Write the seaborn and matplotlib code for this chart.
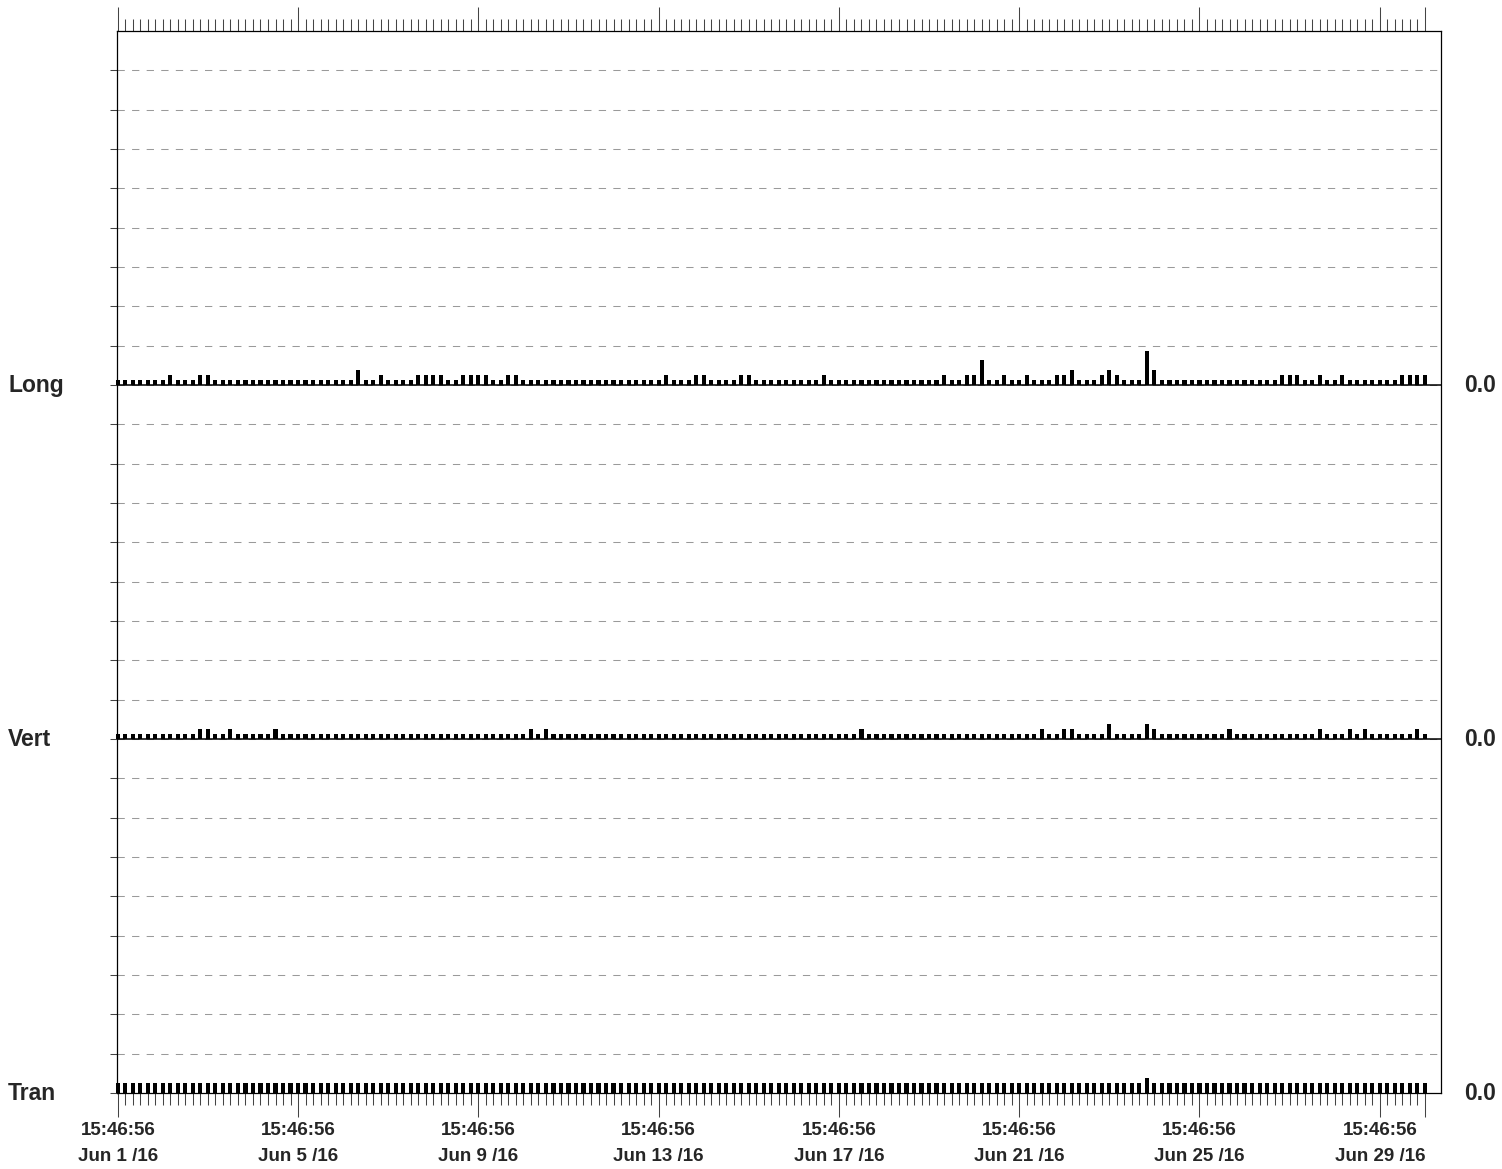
import numpy as np
import pandas as pd
import matplotlib
matplotlib.use("Agg")
import matplotlib.pyplot as plt
from matplotlib.ticker import FixedLocator
import seaborn as sns

# one reading every 4 hours, starting at the first event
start = "2016-06-01 15:46:56"
n_events = 175

# peak readings per interval, in 0.001 in/s (25 per row)
long_vals = [
    5, 5, 5, 5, 5, 5, 5, 10, 5, 5, 5, 10, 10, 5, 5, 5, 5, 5, 5, 5, 5, 5, 5, 5, 5,
    5, 5, 5, 5, 5, 5, 5, 15, 5, 5, 10, 5, 5, 5, 5, 10, 10, 10, 10, 5, 5, 10, 10, 10, 10,
    5, 5, 10, 10, 5, 5, 5, 5, 5, 5, 5, 5, 5, 5, 5, 5, 5, 5, 5, 5, 5, 5, 5, 10, 5,
    5, 5, 10, 10, 5, 5, 5, 5, 10, 10, 5, 5, 5, 5, 5, 5, 5, 5, 5, 10, 5, 5, 5, 5, 5,
    5, 5, 5, 5, 5, 5, 5, 5, 5, 5, 10, 5, 5, 10, 10, 25, 5, 5, 10, 5, 5, 10, 5, 5, 5,
    10, 10, 15, 5, 5, 5, 10, 15, 10, 5, 5, 5, 35, 15, 5, 5, 5, 5, 5, 5, 5, 5, 5, 5, 5,
    5, 5, 5, 5, 5, 10, 10, 10, 5, 5, 10, 5, 5, 10, 5, 5, 5, 5, 5, 5, 5, 10, 10, 10, 10,
]
vert_vals = [
    5, 5, 5, 5, 5, 5, 5, 5, 5, 5, 5, 10, 10, 5, 5, 10, 5, 5, 5, 5, 5, 10, 5, 5, 5,
    5, 5, 5, 5, 5, 5, 5, 5, 5, 5, 5, 5, 5, 5, 5, 5, 5, 5, 5, 5, 5, 5, 5, 5, 5,
    5, 5, 5, 5, 5, 10, 5, 10, 5, 5, 5, 5, 5, 5, 5, 5, 5, 5, 5, 5, 5, 5, 5, 5, 5,
    5, 5, 5, 5, 5, 5, 5, 5, 5, 5, 5, 5, 5, 5, 5, 5, 5, 5, 5, 5, 5, 5, 5, 5, 10,
    5, 5, 5, 5, 5, 5, 5, 5, 5, 5, 5, 5, 5, 5, 5, 5, 5, 5, 5, 5, 5, 5, 5, 10, 5,
    5, 10, 10, 5, 5, 5, 5, 15, 5, 5, 5, 5, 15, 10, 5, 5, 5, 5, 5, 5, 5, 5, 5, 10, 5,
    5, 5, 5, 5, 5, 5, 5, 5, 5, 5, 10, 5, 5, 5, 10, 5, 10, 5, 5, 5, 5, 5, 5, 10, 5,
]
tran_vals = [
    10, 10, 10, 10, 10, 10, 10, 10, 10, 10, 10, 10, 10, 10, 10, 10, 10, 10, 10, 10, 10, 10, 10, 10, 10,
    10, 10, 10, 10, 10, 10, 10, 10, 10, 10, 10, 10, 10, 10, 10, 10, 10, 10, 10, 10, 10, 10, 10, 10, 10,
    10, 10, 10, 10, 10, 10, 10, 10, 10, 10, 10, 10, 10, 10, 10, 10, 10, 10, 10, 10, 10, 10, 10, 10, 10,
    10, 10, 10, 10, 10, 10, 10, 10, 10, 10, 10, 10, 10, 10, 10, 10, 10, 10, 10, 10, 10, 10, 10, 10, 10,
    10, 10, 10, 10, 10, 10, 10, 10, 10, 10, 10, 10, 10, 10, 10, 10, 10, 10, 10, 10, 10, 10, 10, 10, 10,
    10, 10, 10, 10, 10, 10, 10, 10, 10, 10, 10, 10, 15, 10, 10, 10, 10, 10, 10, 10, 10, 10, 10, 10, 10,
    10, 10, 10, 10, 10, 10, 10, 10, 10, 10, 10, 10, 10, 10, 10, 10, 10, 10, 10, 10, 10, 10, 10, 10, 10,
]

channels = ["Long", "Vert", "Tran"]

times = pd.date_range(start, periods=n_events, freq="4h")
hours = (times - times[0]) / pd.Timedelta(hours=1)

df = pd.DataFrame({
    "hours": hours,
    "Long": np.array(long_vals) / 1000,
    "Vert": np.array(vert_vals) / 1000,
    "Tran": np.array(tran_vals) / 1000,
})

sns.set_style("ticks")
plt.rcParams["font.family"] = ["Liberation Sans", "DejaVu Sans"]
plt.rcParams["font.weight"] = "bold"

fig = plt.figure(figsize=(15.02, 11.69), dpi=100)
ax = fig.add_axes([117 / 1502, 1 - 1093 / 1169, 1324 / 1502, 1062 / 1169])

step = 0.04        # grid spacing
band = 9 * step    # height of one channel strip
offsets = {"Long": 2 * band, "Vert": band, "Tran": 0.0}

for ch in channels:
    sns.barplot(data=df, x="hours", y=ch, native_scale=True, width=0.55,
                color="black", errorbar=None, bottom=offsets[ch],
                linewidth=0, zorder=3, clip_on=False, ax=ax)

ax.set_xlim(-0.4, 704.6)
ax.set_ylim(0, 3 * band)
ax.set_xlabel("")
ax.set_ylabel("")

# horizontal grid
ax.set_yticks(np.arange(27) * step)
ax.set_yticklabels([])
ax.set_axisbelow(True)
ax.grid(axis="y", linestyle=(0, (7, 7)), color="#9a9a9a", linewidth=0.75)
ax.grid(axis="x", visible=False)
for ch in ["Long", "Vert"]:
    ax.axhline(offsets[ch], color="black", linewidth=1.1, zorder=4)

# time axis: labelled every 4 days, minor ticks at every reading
major_h = [0, 96, 192, 288, 384, 480, 576, 672, 696]
labels = []
for h in major_h[:-1]:
    t = times[0] + pd.Timedelta(hours=h)
    labels.append(f"{t:%H:%M:%S}\n{t:%b} {t.day} /{t:%y}")
labels.append("")
ax.set_xticks(major_h, labels)
ax.xaxis.set_minor_locator(FixedLocator(list(hours)))

ax.tick_params(axis="x", which="both", top=True, bottom=True, direction="out",
               color="#444444", width=0.75)
ax.tick_params(axis="x", which="major", length=17, pad=4, labelsize=13.5)
ax.tick_params(axis="x", which="minor", length=8.6)
ax.tick_params(axis="y", which="major", left=True, right=False, direction="out",
               length=5, width=0.75, color="#444444")
for lbl in ax.get_xticklabels():
    lbl.set_fontweight("bold")
    lbl.set_linespacing(1.7)

for side in ["left", "right", "top", "bottom"]:
    ax.spines[side].set_color("black")
    ax.spines[side].set_linewidth(0.9)

# channel names and zero values
trans = ax.get_yaxis_transform()
for ch in channels:
    ax.text(-0.0823, offsets[ch], ch, transform=trans, ha="left", va="center",
            fontsize=16.5, fontweight="bold")
    ax.text(1.0174, offsets[ch], "0.0", transform=trans, ha="left", va="center",
            fontsize=16.5, fontweight="bold")

fig.savefig("out.png", dpi=100)
